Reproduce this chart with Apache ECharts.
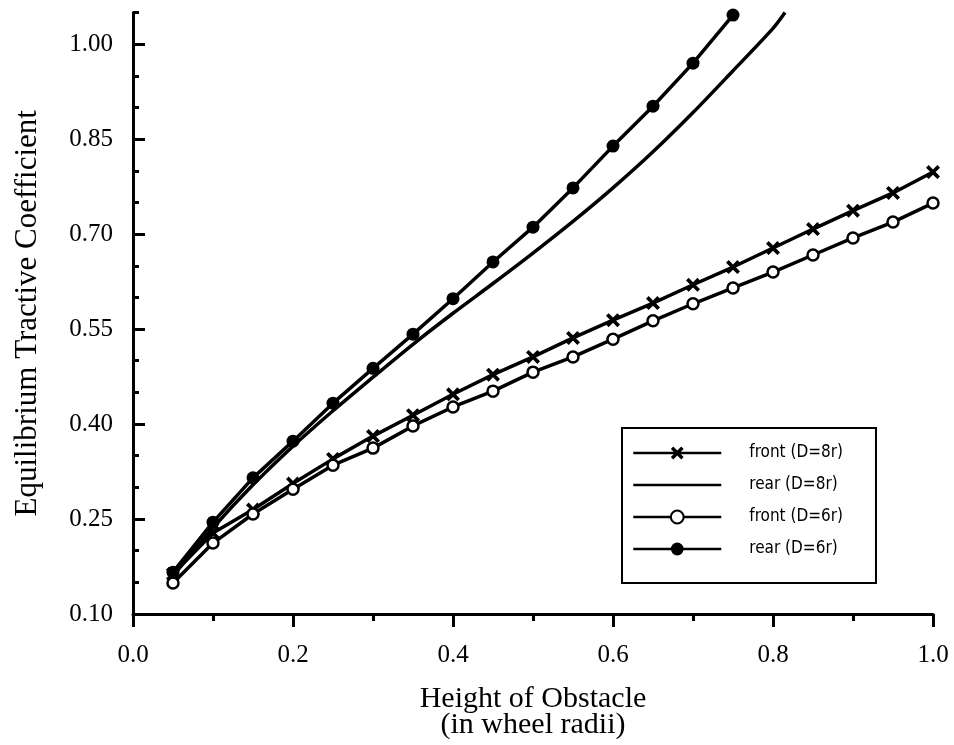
<!DOCTYPE html>
<html lang="en">
<head>
    <meta charset="UTF-8">
    <title>Equilibrium Tractive Coefficient</title>
    <script src="https://cdn.jsdelivr.net/npm/echarts@6.0.0/dist/echarts.min.js"></script>
    <style>
        html, body { margin: 0; padding: 0; background: #fff; }
    </style>
</head>
<body>
    <div id="main" style="width: 954px;height:745px;"></div>
    <script type="text/javascript">

        // x positions (wheel radii)
        var xFront = [0.05, 0.10, 0.15, 0.20, 0.25, 0.30, 0.35, 0.40, 0.45, 0.50,
                      0.55, 0.60, 0.65, 0.70, 0.75, 0.80, 0.85, 0.90, 0.95, 1.00];
        var xRear6 = [0.05, 0.10, 0.15, 0.20, 0.25, 0.30, 0.35, 0.40, 0.45, 0.50,
                      0.55, 0.60, 0.65, 0.70, 0.75];
        var xRear8 = [0.05, 0.10, 0.15, 0.20, 0.25, 0.30, 0.35, 0.40, 0.45, 0.50,
                      0.55, 0.60, 0.65, 0.70, 0.75, 0.80, 0.815];

        // values
        var front8 = [0.163, 0.228, 0.265, 0.306, 0.345, 0.381, 0.414, 0.447, 0.478, 0.506,
                      0.536, 0.564, 0.591, 0.620, 0.648, 0.678, 0.708, 0.737, 0.765, 0.798];
        var rear8  = [0.160, 0.236, 0.304, 0.365, 0.421, 0.474, 0.526, 0.575, 0.622, 0.670,
                      0.720, 0.773, 0.830, 0.892, 0.958, 1.025, 1.050];
        var front6 = [0.149, 0.212, 0.258, 0.297, 0.335, 0.362, 0.397, 0.427, 0.452, 0.482,
                      0.506, 0.534, 0.563, 0.590, 0.615, 0.640, 0.667, 0.694, 0.719, 0.749];
        var rear6  = [0.166, 0.245, 0.315, 0.373, 0.433, 0.488, 0.542, 0.598, 0.656, 0.711,
                      0.773, 0.839, 0.902, 0.970, 1.046];

        var names = ['front (D=8r)', 'rear (D=8r)', 'front (D=6r)', 'rear (D=6r)'];

        // tick labels
        var yLabels = [0.10, 0.25, 0.40, 0.55, 0.70, 0.85, 1.00];
        var xLabels = [0.0, 0.2, 0.4, 0.6, 0.8, 1.0];

        function pairs(xs, ys) {
            return ys.map(function (y, i) { return [xs[i], y]; });
        }

        var serif = '"Liberation Serif", "DejaVu Serif", serif';
        var narrow = '"Liberation Sans Narrow", "DejaVu Sans Condensed", "Liberation Sans", sans-serif';
        var crossPath = 'path://M0,3 L3,0 L8,5 L13,0 L16,3 L11,8 L16,13 L13,16 L8,11 L3,16 L0,13 L5,8 Z';

        var black = '#000';
        var axisLine = {show: true, lineStyle: {color: black, width: 3}};

        var myChart = echarts.init(document.getElementById('main'));

        var option = {
            animation: false,
            backgroundColor: '#fff',
            grid: {
                left: 133,
                right: 21,
                top: 12.5,
                bottom: 131,
                outerBoundsMode: 'none'
            },
            legend: {
                orient: 'vertical',
                left: 622,
                top: 428,
                selectedMode: false,
                itemWidth: 88,
                itemHeight: 16,
                itemGap: 12,
                padding: [15, 33, 24, 10],
                borderColor: black,
                borderWidth: 2,
                lineStyle: {color: black, width: 2.5},
                textStyle: {
                    fontFamily: narrow,
                    fontSize: 17,
                    lineHeight: 20,
                    color: black,
                    padding: [0, 0, 0, 23]
                },
                data: [
                    {name: names[0]},
                    {name: names[1], itemStyle: {color: 'rgba(0,0,0,0)', borderWidth: 0}},
                    {name: names[2]},
                    {name: names[3]}
                ]
            },
            xAxis: [
                {
                    type: 'value',
                    min: 0,
                    max: 1,
                    interval: 0.1,
                    axisLine: axisLine,
                    axisTick: {length: 7, lineStyle: {color: black, width: 3}},
                    axisLabel: {
                        customValues: xLabels,
                        formatter: function (v) { return v.toFixed(1); },
                        fontFamily: serif,
                        fontSize: 25,
                        color: black,
                        margin: 29
                    },
                    splitLine: {show: false},
                    name: 'Height of Obstacle\n(in wheel radii)',
                    nameLocation: 'middle',
                    nameGap: 72,
                    nameTextStyle: {fontFamily: serif, fontSize: 30, lineHeight: 26, color: black}
                },
                {
                    type: 'value',
                    position: 'bottom',
                    min: 0,
                    max: 1,
                    interval: 0.2,
                    axisLine: {show: false},
                    axisTick: {customValues: xLabels, length: 13, lineStyle: {color: black, width: 3}},
                    axisLabel: {show: false},
                    splitLine: {show: false}
                }
            ],
            yAxis: [
                {
                    type: 'value',
                    min: 0.10,
                    max: 1.05,
                    interval: 0.05,
                    axisLine: axisLine,
                    axisTick: {inside: true, length: 6, lineStyle: {color: black, width: 3}},
                    axisLabel: {
                        customValues: yLabels,
                        formatter: function (v) { return v.toFixed(2); },
                        fontFamily: serif,
                        fontSize: 25,
                        color: black,
                        margin: 20
                    },
                    splitLine: {show: false},
                    name: 'Equilibrium Tractive Coefficient',
                    nameLocation: 'middle',
                    nameGap: 90,
                    nameTextStyle: {fontFamily: serif, fontSize: 31, color: black}
                },
                {
                    type: 'value',
                    position: 'left',
                    min: 0.10,
                    max: 1.05,
                    interval: 0.05,
                    axisLine: {show: false},
                    axisTick: {inside: true, customValues: yLabels, length: 12, lineStyle: {color: black, width: 3}},
                    axisLabel: {show: false},
                    splitLine: {show: false}
                }
            ],
            series: [
                {
                    name: names[1],
                    type: 'line',
                    data: pairs(xRear8, rear8),
                    smooth: 0.3,
                    symbol: 'none',
                    lineStyle: {color: black, width: 3.5},
                    itemStyle: {color: black}
                },
                {
                    name: names[0],
                    type: 'line',
                    data: pairs(xFront, front8),
                    symbol: crossPath,
                    symbolSize: 14,
                    lineStyle: {color: black, width: 3.5},
                    itemStyle: {color: black}
                },
                {
                    name: names[2],
                    type: 'line',
                    data: pairs(xFront, front6),
                    symbol: 'circle',
                    symbolSize: 11,
                    lineStyle: {color: black, width: 3.5},
                    itemStyle: {color: '#fff', borderColor: black, borderWidth: 2.5}
                },
                {
                    name: names[3],
                    type: 'line',
                    data: pairs(xRear6, rear6),
                    symbol: 'circle',
                    symbolSize: 13,
                    lineStyle: {color: black, width: 3.5},
                    itemStyle: {color: black}
                }
            ]
        };

        myChart.setOption(option);
    </script>
</body>
</html>
